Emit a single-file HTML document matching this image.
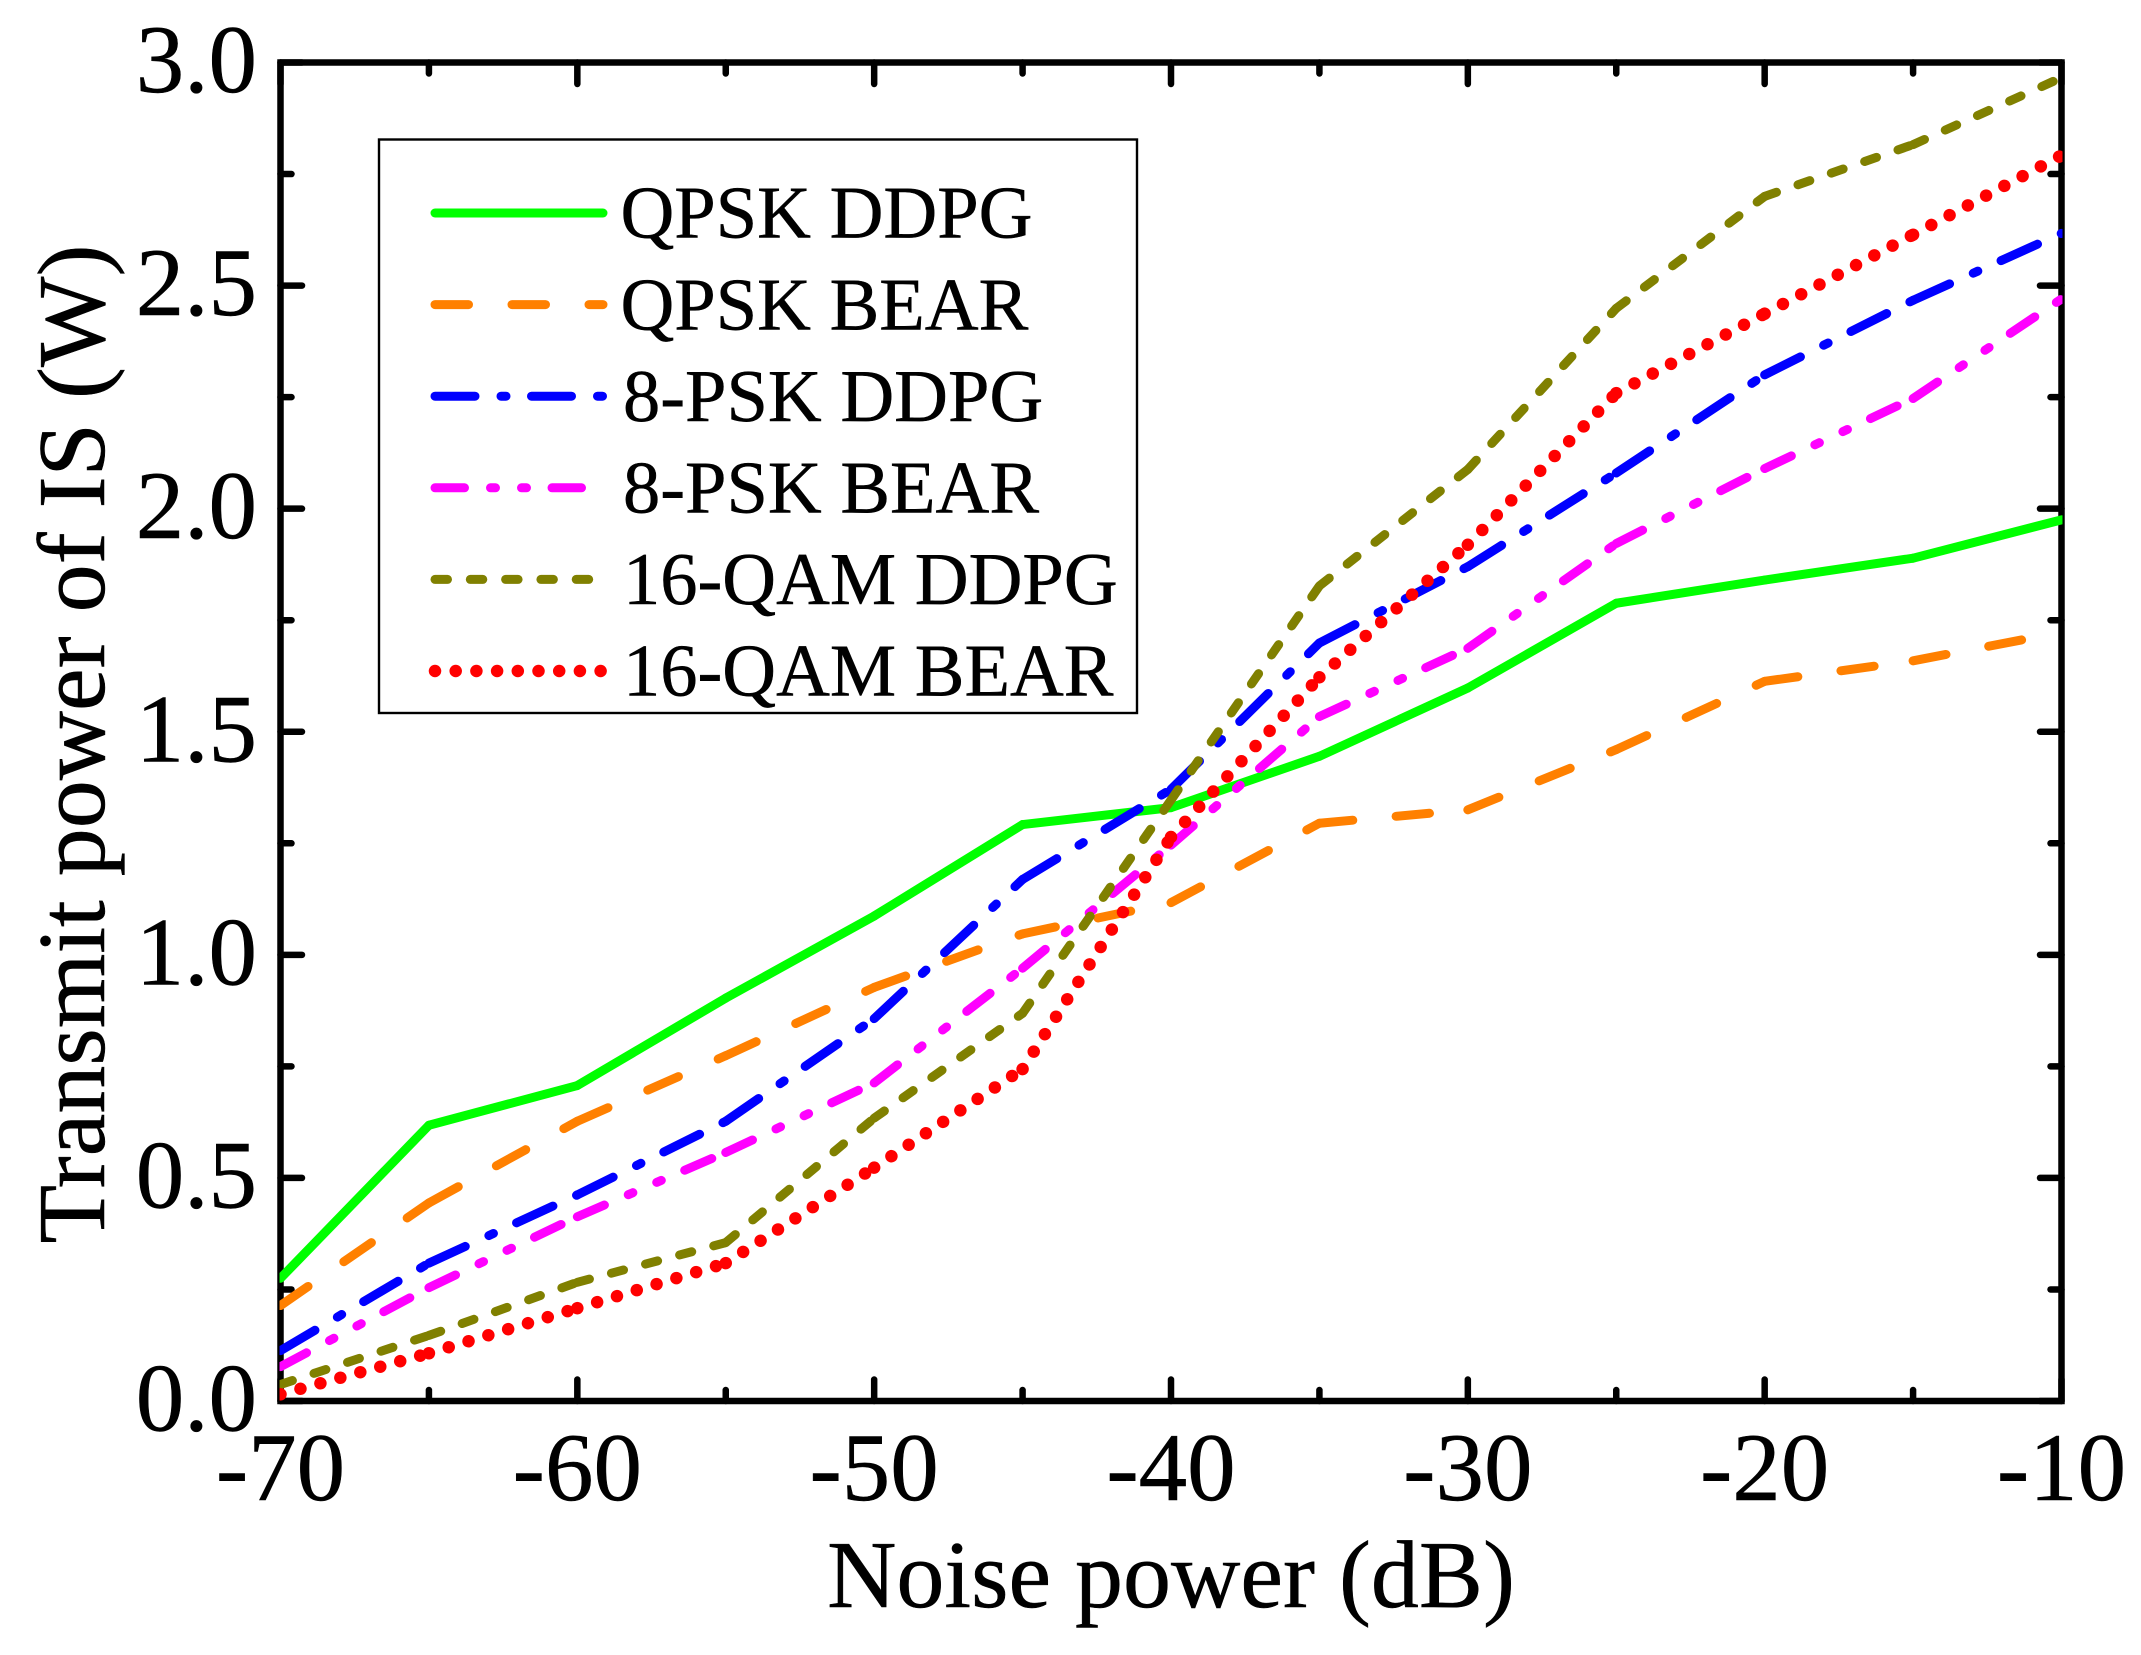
<!DOCTYPE html>
<html>
<head>
<meta charset="utf-8">
<title>Transmit power of IS vs noise power</title>
<style>
html,body{margin:0;padding:0;background:#fff;}
svg{display:block;}
text{font-family:"Liberation Serif",serif;fill:#000;stroke:#000;stroke-width:0.5;text-rendering:geometricPrecision;}
</style>
</head>
<body>
<svg id="chart" xmlns="http://www.w3.org/2000/svg" width="2141" height="1655" viewBox="0 0 2141 1655">
  <defs><clipPath id="plot-clip"><rect x="279.5" y="60" width="1783" height="1342"/></clipPath></defs>
  <rect x="0" y="0" width="2141" height="1655" fill="#fff"/>
  <g id="ticks"></g>
  <rect x="280.5" y="62.5" width="1781" height="1338.5" fill="none" stroke="#000" stroke-width="6.5" stroke-linejoin="miter"/>
  <g id="tick-labels"></g>
  <g id="series" clip-path="url(#plot-clip)"></g>
  <text x="1171" y="1607" font-size="96" text-anchor="middle">Noise power (dB)</text>
  <text transform="translate(104,744) rotate(-90)" font-size="96" text-anchor="middle">Transmit power of IS (W)</text>
  <g id="legend">
    <rect x="379" y="139.5" width="758" height="573.5" fill="#fff" stroke="#000" stroke-width="2.4"/>
  </g>
</svg>
<script>
const noisePower = [-70,-65,-60,-55,-50,-45,-40,-35,-30,-25,-20,-15,-10];
const qpskDdpg  = [0.275,0.618,0.707,0.903,1.087,1.292,1.330,1.445,1.598,1.788,1.840,1.889,1.975];
const qpskBear  = [0.214,0.444,0.627,0.774,0.927,1.047,1.117,1.295,1.325,1.460,1.613,1.659,1.723];
const psk8Ddpg  = [0.113,0.309,0.462,0.627,0.857,1.169,1.371,1.699,1.870,2.080,2.300,2.467,2.617];
const psk8Bear  = [0.077,0.254,0.413,0.557,0.713,0.970,1.246,1.534,1.687,1.922,2.090,2.247,2.470];
const qam16Ddpg = [0.037,0.147,0.266,0.355,0.634,0.869,1.347,1.827,2.088,2.449,2.700,2.816,2.966];
const qam16Bear = [0.015,0.107,0.208,0.309,0.523,0.744,1.264,1.622,1.919,2.259,2.437,2.614,2.792];
const xTickLabels = ["-70","-60","-50","-40","-30","-20","-10"];
const yTickLabels = ["0.0","0.5","1.0","1.5","2.0","2.5","3.0"];
const seriesNames = ["QPSK DDPG","QPSK BEAR","8-PSK DDPG","8-PSK BEAR","16-QAM DDPG","16-QAM BEAR"];

const NS = "http://www.w3.org/2000/svg";
const xMin = -70, xMax = -10, yMin = 0, yMax = 3;
const plotLeft = 280.5, plotRight = 2061.5, plotTop = 62.5, plotBottom = 1401;
function xScale(v){ return plotLeft + (v - xMin) / (xMax - xMin) * (plotRight - plotLeft); }
function yScale(v){ return plotBottom - (v - yMin) / (yMax - yMin) * (plotBottom - plotTop); }
function make(tag, attrs, parent){
  const el = document.createElementNS(NS, tag);
  for (const k in attrs) el.setAttribute(k, attrs[k]);
  parent.appendChild(el);
  return el;
}
function slug(s){ return s.toLowerCase().replace(/[^a-z0-9]+/g, '-'); }

const seriesData = [qpskDdpg, qpskBear, psk8Ddpg, psk8Bear, qam16Ddpg, qam16Bear];
const seriesStyles = [
  {color:"#00ff00", width:9, dash:""},
  {color:"#ff8000", width:9, dash:"33.5 43.5"},
  {color:"#0000ff", width:9, dash:"40 26 5 25.5"},
  {color:"#ff00ff", width:9, dash:"29.5 26 5 26 5 25.5"},
  {color:"#808000", width:9, dash:"12.5 22.8"},
  {color:"#ff0000", width:12.5, dash:"0.01 20.69"}
];

// ticks and tick labels
const ticksG = document.getElementById('ticks');
const labelsG = document.getElementById('tick-labels');
function tick(x1, y1, x2, y2){
  const t = make('line', {x1:x1, y1:y1, x2:x2, y2:y2, stroke:'#000', 'stroke-width':6.5, 'stroke-linecap':'round'}, ticksG);
  
  
}
for (let i = 0; i <= 12; i++) {
  const v = xMin + i * 5;
  const x = xScale(v);
  const len = i % 2 === 0 ? 21.5 : 11;
  tick(x, plotBottom, x, plotBottom - len);
  tick(x, plotTop, x, plotTop + len);
}
for (let i = 0; i <= 12; i++) {
  const v = yMin + i * 0.25;
  const y = yScale(v);
  const len = i % 2 === 0 ? 21.5 : 11;
  tick(plotLeft, y, plotLeft + len, y);
  tick(plotRight, y, plotRight - len, y);
}
xTickLabels.forEach(function(s){
  const t = make('text', {x:xScale(parseFloat(s)), y:1500, 'font-size':97, 'text-anchor':'middle'}, labelsG);
  
  
  t.textContent = s;
});
yTickLabels.forEach(function(s){
  const t = make('text', {x:257, y:yScale(parseFloat(s)) + 29.5, 'font-size':97, 'text-anchor':'end'}, labelsG);
  
  
  t.textContent = s;
});

// series: each segment restarts the dash pattern, as in the reference
const seriesG = document.getElementById('series');
seriesData.forEach(function(vals, si){
  const st = seriesStyles[si];
  const g = make('g', {}, seriesG);
  
  
  for (let i = 0; i < vals.length - 1; i++) {
    const attrs = {x1:xScale(noisePower[i]), y1:yScale(vals[i]), x2:xScale(noisePower[i+1]), y2:yScale(vals[i+1]),
      stroke:st.color, 'stroke-width':st.width, 'stroke-linecap':'round'};
    if (st.dash) attrs['stroke-dasharray'] = st.dash;
    const seg = make('line', attrs, g);
    
    
  }
});

// legend
const legendG = document.getElementById('legend');
seriesNames.forEach(function(name, i){
  const st = seriesStyles[i];
  const yLine = 213 + i * 91.6;
  const attrs = {x1:435, y1:yLine, x2:603, y2:yLine, stroke:st.color, 'stroke-width':st.width, 'stroke-linecap':'round'};
  if (st.dash) attrs['stroke-dasharray'] = st.dash;
  const ln = make('line', attrs, legendG);
  
  
  const tx = make('text', {x:i < 2 ? 620.5 : 623, y:237.7 + i * 91.6, 'font-size':74.5}, legendG);
  
  
  tx.textContent = name;
});
</script>
</body>
</html>
